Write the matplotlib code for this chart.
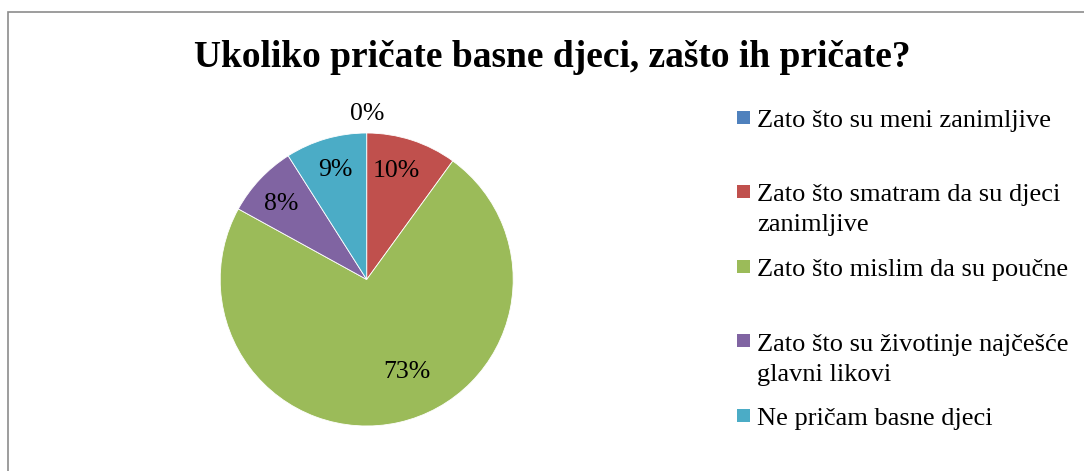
import numpy as np
import matplotlib
matplotlib.use("Agg")
import matplotlib.pyplot as plt
from matplotlib.patches import Rectangle

title = "Ukoliko pričate basne djeci, zašto ih pričate?"
categories = [
    "Zato što su meni zanimljive",
    "Zato što smatram da su djeci\nzanimljive",
    "Zato što mislim da su poučne",
    "Zato što su životinje najčešće\nglavni likovi",
    "Ne pričam basne djeci",
]
shares = [0, 10, 73, 8, 9]
colors = ["#4F81BD", "#C0504D", "#9BBB59", "#8064A2", "#4BACC6"]

W, H = 1084, 471
plt.rcParams["font.family"] = ["Liberation Serif", "DejaVu Serif"]

fig = plt.figure(figsize=(W / 100, H / 100), dpi=100)


def fx(x):
    return x / W


def fy(y):
    return 1 - y / H


# outer chart frame (right and bottom edges run off the picture)
fig.patches.append(Rectangle((fx(8), fy(H + 20)), fx(W + 20 - 8), fy(12) - fy(H + 20),
                             transform=fig.transFigure, fill=False,
                             edgecolor="#8c8c8c", linewidth=1.2))

fig.text(fx(552), fy(67), title, ha="center", va="baseline",
         fontsize=27, fontweight="bold")

# pie
cx, cy, r = 366.7, 279.5, 146.5
ax = fig.add_axes([fx(cx - r), fy(cy + r), (2 * r) / W, (2 * r) / H])
wedges, _ = ax.pie(shares, colors=colors, startangle=90, counterclock=False,
                   wedgeprops=dict(edgecolor="white", linewidth=0.6))
ax.set_xlim(-1, 1)
ax.set_ylim(-1, 1)
ax.set_aspect("equal")
ax.axis("off")

# label placement (radius fraction, angle shift in degrees) per slice
label_r = [1.13, 0.77, 0.69, 0.78, 0.78]
label_shift = [0, 3, 11, 2, 0]
for w, s, lr, sh in zip(wedges, shares, label_r, label_shift):
    ang = np.deg2rad((w.theta1 + w.theta2) / 2 + sh)
    ax.text(lr * np.cos(ang), lr * np.sin(ang), f"{s}%", ha="center",
            va="center", fontsize=18.5, clip_on=False)

# legend, drawn as evenly spaced slots
slot0, slot_h, line_h = 117, 74.5, 30
for i, (lab, col) in enumerate(zip(categories, colors)):
    yc = slot0 + i * slot_h
    fig.patches.append(Rectangle((fx(737), fy(yc + 6.5)), 13 / W, 13 / H,
                                 transform=fig.transFigure, facecolor=col,
                                 edgecolor="none"))
    for k, line in enumerate(lab.split("\n")):
        fig.text(fx(757), fy(yc + 10 + k * line_h), line, ha="left",
                 va="baseline", fontsize=19)

fig.savefig("out.png", dpi=100)
